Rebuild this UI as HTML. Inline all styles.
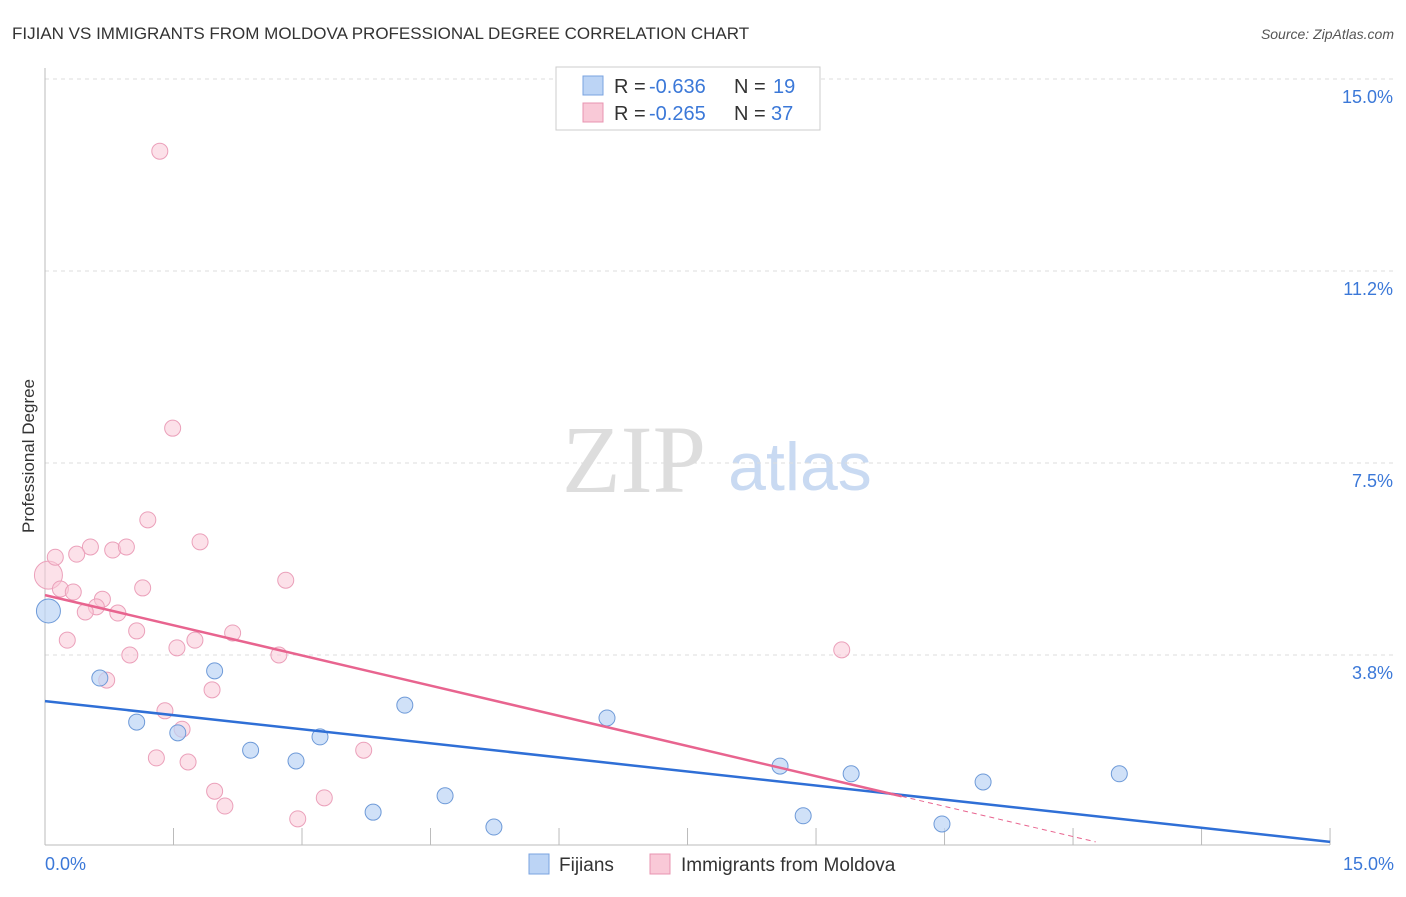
<!DOCTYPE html>
<html><head><meta charset="utf-8"><style>
body{margin:0;background:#fff;font-family:"Liberation Sans",sans-serif;}
svg text{font-family:"Liberation Sans",sans-serif;}
</style></head><body>
<svg id="chart" width="1406" height="892">
<text x="12" y="39" font-size="17" fill="#333">FIJIAN VS IMMIGRANTS FROM MOLDOVA PROFESSIONAL DEGREE CORRELATION CHART</text>
<text x="1394" y="39" font-size="14" fill="#555" font-style="italic" text-anchor="end">Source: ZipAtlas.com</text>
<text transform="translate(34,456) rotate(-90)" font-size="17" fill="#333" text-anchor="middle">Professional Degree</text>
<text x="634" y="492" font-size="96" fill="#ddd" text-anchor="middle" style="font-family:'Liberation Serif',serif">ZIP</text>
<text x="800" y="490" font-size="68" fill="#c9daf2" text-anchor="middle">atlas</text>
<g id="grid"></g><g id="marks"></g>
<g>
<rect x="556" y="67" width="264" height="63" fill="#fff" stroke="#ccc"/>
<rect x="583" y="76" width="20" height="19" fill="#bcd4f5" stroke="#7aa3e0"/>
<rect x="583" y="103" width="20" height="19" fill="#f9c9d7" stroke="#e894b0"/>
<text y="93" font-size="20" fill="#333"><tspan x="614">R =</tspan><tspan x="649" fill="#3b78d8">-0.636</tspan><tspan x="734">N =</tspan><tspan x="773" fill="#3b78d8">19</tspan></text>
<text y="120" font-size="20" fill="#333"><tspan x="614">R =</tspan><tspan x="649" fill="#3b78d8">-0.265</tspan><tspan x="734">N =</tspan><tspan x="771" fill="#3b78d8">37</tspan></text>
</g>
<g>
<rect x="529" y="854" width="20" height="20" fill="#bcd4f5" stroke="#7aa3e0"/>
<text x="559" y="871" font-size="19" fill="#333">Fijians</text>
<rect x="650" y="854" width="20" height="20" fill="#f9c9d7" stroke="#e894b0"/>
<text x="681" y="871" font-size="19" fill="#333">Immigrants from Moldova</text>
</g>
</svg>
<script>
const yTicks=[15.0,11.2,7.5,3.8];
const yTickValues=[15,11.25,7.5,3.75];
const xTickLabels=["0.0%","15.0%"];
const fijX=[0.04,0.64,1.07,1.55,1.98,2.40,2.93,3.21,3.83,4.20,4.67,5.24,6.56,8.58,8.85,9.41,10.47,10.95,12.54];
const fijY=[4.61,3.30,2.44,2.23,3.44,1.89,1.68,2.15,0.68,2.77,1.00,0.39,2.52,1.58,0.61,1.43,0.45,1.27,1.43];
const molX=[0.04,0.12,1.34,1.49,1.20,1.81,0.53,0.37,0.79,0.95,0.18,0.33,1.14,2.81,0.67,0.60,0.47,0.85,0.26,1.07,2.19,1.75,1.54,0.99,2.73,9.30,0.72,1.95,1.40,1.60,1.30,1.67,3.72,1.98,2.10,3.26,2.95];
const molY=[5.31,5.66,13.59,8.18,6.39,5.96,5.86,5.72,5.80,5.86,5.04,4.98,5.06,5.21,4.84,4.69,4.59,4.57,4.04,4.22,4.18,4.04,3.89,3.75,3.75,3.85,3.26,3.07,2.66,2.30,1.74,1.66,1.89,1.09,0.80,0.96,0.55];
const fijTrend=[2.85,0.10];
const molTrend=[4.92,-0.393];
const NS="http://www.w3.org/2000/svg";
const sx=v=>45+v*85.67, sy=v=>847-v*51.2;
function mk(t,a,p){const e=document.createElementNS(NS,t);for(const k in a)e.setAttribute(k,a[k]);p.appendChild(e);return e;}
const g=document.getElementById('grid'),m=document.getElementById('marks');
yTickValues.forEach((v,i)=>{
 const l=mk('line',{x1:45,x2:1394,y1:sy(v),y2:sy(v),stroke:'#ddd','stroke-dasharray':'4,4'},g);
 
 
 const t=mk('text',{x:1393,y:sy(v)+24,'font-size':18,fill:'#3b78d8','text-anchor':'end'},g);t.textContent=yTicks[i].toFixed(1)+'%';
 
 
});
const ax=mk('line',{x1:45,x2:1330,y1:845,y2:845,stroke:'#bbb'},g);


const ay=mk('line',{x1:45,x2:45,y1:68,y2:845,stroke:'#bbb'},g);


for(let i=0;i<=10;i++){const t=mk('line',{x1:sx(i*1.5),x2:sx(i*1.5),y1:828,y2:845,stroke:'#bbb'},g);
 
 }
[[0,'start',45],[1,'end',1394]].forEach(([i,a,x])=>{const t=mk('text',{x:x,y:870,'font-size':18,fill:'#3b78d8','text-anchor':a},g);t.textContent=xTickLabels[i];
 
 });
molX.forEach((x,i)=>{const c=mk('circle',{cx:sx(x),cy:sy(molY[i]),r:i==0?14:8,fill:'#f9c9d7','fill-opacity':0.55,stroke:'#eba0ba'},m);
 
 });
fijX.forEach((x,i)=>{const c=mk('circle',{cx:sx(x),cy:sy(fijY[i]),r:i==0?12:8,fill:'#bcd4f5','fill-opacity':0.7,stroke:'#6e9ad8'},m);
 
 });
const fl=mk('line',{x1:sx(0),y1:sy(fijTrend[0]),x2:sx(15),y2:sy(fijTrend[1]),stroke:'#2f6fd6','stroke-width':2.5},m);


const xe=10, xd=(0.1-molTrend[0])/molTrend[1];
const ml=mk('line',{x1:sx(0),y1:sy(molTrend[0]),x2:sx(xe),y2:sy(molTrend[0]+molTrend[1]*xe),stroke:'#e8648f','stroke-width':2.5},m);


const md=mk('line',{x1:sx(xe),y1:sy(molTrend[0]+molTrend[1]*xe),x2:sx(xd),y2:sy(0.1),stroke:'#e8648f','stroke-width':1,'stroke-dasharray':'5,4'},m);


</script>
</body></html>
